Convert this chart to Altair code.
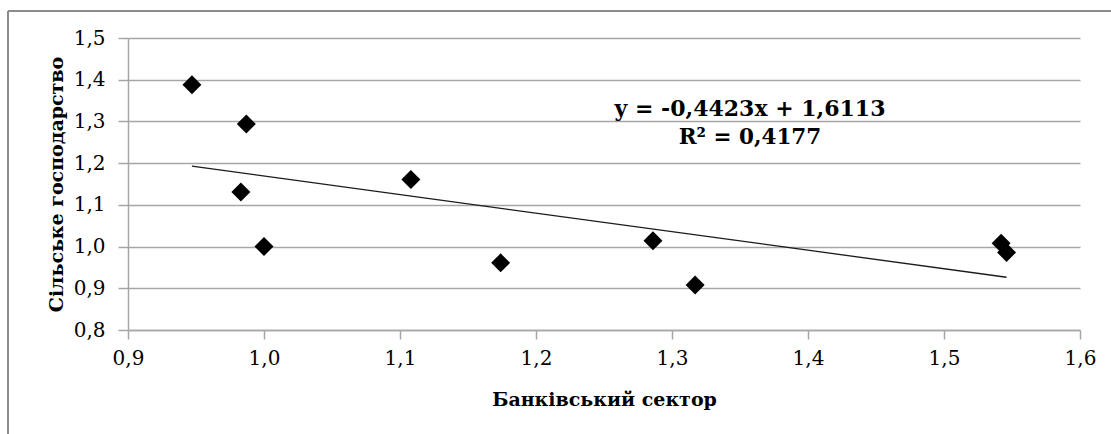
import altair as alt
import pandas as pd

# Data
bank_sector = [0.947, 0.987, 0.983, 1.000, 1.108, 1.174, 1.286, 1.317, 1.542, 1.546]
agriculture = [1.388, 1.294, 1.131, 1.000, 1.161, 0.961, 1.014, 0.908, 1.008, 0.986]
x_ticks = [0.9, 1.0, 1.1, 1.2, 1.3, 1.4, 1.5, 1.6]
y_ticks = [0.8, 0.9, 1.0, 1.1, 1.2, 1.3, 1.4, 1.5]
equation_text = ["y = -0,4423x + 1,6113", "R² = 0,4177"]
x_title = "Банківський сектор"
y_title = "Сільське господарство"

FONT = "DejaVu Serif"
GRID = "#a6a6a6"

df = pd.DataFrame({"x": bank_sector, "y": agriculture})

label_expr = "replace(format(datum.value, '.1f'), '.', ',')"

x_enc = alt.X(
    "x:Q",
    scale=alt.Scale(domain=[0.9, 1.6], nice=False, zero=False),
    axis=alt.Axis(
        values=x_ticks, labelExpr=label_expr, grid=False, title=x_title,
        titleX=476, titleY=75, titleBaseline="alphabetic", titleAlign="center",
        titleFontSize=19, titleFontWeight="bold", titleFont=FONT, titleColor="black",
        labelFont=FONT, labelFontSize=20, labelColor="black", labelPadding=9,
        labelFlush=False, labelOverlap=False,
        tickSize=9, tickColor=GRID, tickWidth=1.5,
        domainColor=GRID, domainWidth=1.5,
    ),
)
y_enc = alt.Y(
    "y:Q",
    scale=alt.Scale(domain=[0.8, 1.5], nice=False, zero=False),
    axis=alt.Axis(
        values=y_ticks, labelExpr=label_expr, grid=True, gridColor=GRID, gridWidth=1.5,
        title=y_title, titleX=-66, titleY=146, titleAngle=270, titleBaseline="alphabetic",
        titleAlign="center", titleFontSize=19, titleFontWeight="bold", titleFont=FONT,
        titleColor="black",
        labelFont=FONT, labelFontSize=20, labelColor="black", labelPadding=13,
        labelFlush=False, labelOverlap=False,
        tickSize=10, tickColor=GRID, tickWidth=1.5,
        domainColor=GRID, domainWidth=1.5,
    ),
)

base = alt.Chart(df)

points = base.mark_point(
    shape="diamond", filled=True, color="black", size=360, opacity=1
).encode(x=x_enc, y=y_enc)

trend = base.transform_regression("x", "y").mark_line(
    color="#1a1a1a", strokeWidth=1.3
).encode(x="x:Q", y="y:Q")

eq1 = alt.Chart(pd.DataFrame({"t": [equation_text[0]]})).mark_text(
    font=FONT, fontSize=22, fontWeight="bold", color="black",
    align="center", baseline="alphabetic"
).encode(text="t:N", x=alt.value(622), y=alt.value(78))

eq2 = alt.Chart(pd.DataFrame({"t": [equation_text[1]]})).mark_text(
    font=FONT, fontSize=21.5, fontWeight="bold", color="black",
    align="center", baseline="alphabetic"
).encode(text="t:N", x=alt.value(622), y=alt.value(106))

border_df = pd.DataFrame({"k": [0]})
border_left = alt.Chart(border_df).mark_rule(color="#8c8c8c", strokeWidth=2).encode(
    x=alt.value(-120), y=alt.value(-27), y2=alt.value(400)
)
border_top = alt.Chart(border_df).mark_rule(color="#8c8c8c", strokeWidth=2).encode(
    x=alt.value(-120), x2=alt.value(990), y=alt.value(-27)
)

chart = alt.layer(border_left, border_top, trend, points, eq1, eq2).properties(
    width=952,
    height=292,
    autosize=alt.AutoSizeParams(type="none"),
    padding={"left": 128, "top": 38, "right": 31, "bottom": 104},
    background="white",
).configure_view(stroke=None)

chart.save("out.html", embed_options={"renderer": "svg", "actions": False})
